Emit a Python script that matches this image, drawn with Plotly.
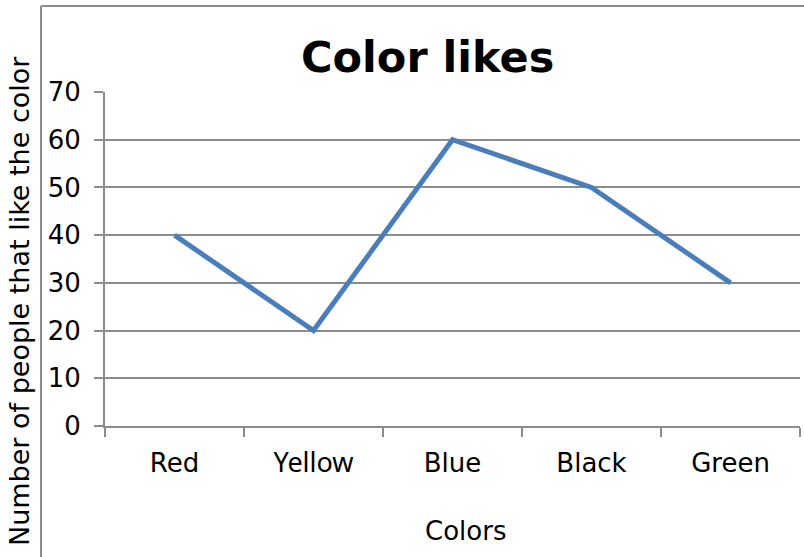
import plotly.graph_objects as go

categories = ["Red", "Yellow", "Blue", "Black", "Green"]
values = [40, 20, 60, 50, 30]
y_ticks = [0, 10, 20, 30, 40, 50, 60, 70]

W, H = 804, 557
# target plot area in screenshot pixels: x 105..800, y 92..426
L = 105
T = 92
R = W - 800
B = H - 426
pw = W - L - R
ph = H - T - B

def px(x):
    return (x - L) / pw

def py(y):
    return (H - B - y) / ph

GRAY = "#8c8c8c"
FONT = "DejaVu Sans"
FS = 26

tick_text = [
    c if c != "Yellow" else '<span style="font-family:Noto Sans;font-size:27px">Yellow</span>'
    for c in categories
]

fig = go.Figure()
fig.add_trace(go.Scatter(
    x=categories, y=values, mode="lines",
    line=dict(color="#4a7ebb", width=5), showlegend=False, hoverinfo="skip",
))

fig.update_layout(
    width=W, height=H,
    margin=dict(l=L, r=R, t=T, b=B, autoexpand=False),
    paper_bgcolor="white", plot_bgcolor="white",
    font=dict(family=FONT, size=FS, color="black"),
    xaxis=dict(
        type="category",
        range=[-0.5, len(categories) - 0.5],
        tickmode="array", tickvals=categories, ticktext=tick_text,
        showgrid=False, zeroline=False,
        showline=True, linecolor=GRAY, linewidth=2,
        ticks="outside", ticklen=9, tickwidth=2, tickcolor=GRAY,
        tickson="boundaries",
        ticklabelstandoff=13,
        tickfont=dict(family=FONT, size=FS),
        automargin=False,
    ),
    yaxis=dict(
        range=[0, 70], tickmode="array", tickvals=y_ticks,
        ticktext=[str(v) for v in y_ticks],
        showgrid=True, gridcolor=GRAY, gridwidth=2,
        zeroline=False,
        showline=True, linecolor=GRAY, linewidth=2,
        ticks="outside", ticklen=9, tickwidth=2, tickcolor=GRAY,
        ticklabelstandoff=8,
        tickfont=dict(family=FONT, size=FS),
        automargin=False,
    ),
    annotations=[
        dict(text="<b>Color likes</b>", x=px(427), y=py(57), xref="paper", yref="paper",
             showarrow=False, font=dict(family=FONT, size=43, color="black"),
             xanchor="center", yanchor="middle"),
        dict(text="Colors", x=px(465), y=py(531), xref="paper", yref="paper",
             showarrow=False, font=dict(family=FONT, size=FS, color="black"),
             xanchor="center", yanchor="middle"),
        dict(text="Number of people that like the color", x=px(19), y=py(301),
             xref="paper", yref="paper", textangle=-90,
             showarrow=False, font=dict(family=FONT, size=27, color="black"),
             xanchor="center", yanchor="middle"),
    ],
    shapes=[
        dict(type="line", xref="paper", yref="paper", x0=px(41), x1=px(41), y0=py(6), y1=py(620),
             line=dict(color=GRAY, width=2)),
        dict(type="line", xref="paper", yref="paper", x0=px(41), x1=px(880), y0=py(6), y1=py(6),
             line=dict(color=GRAY, width=2)),
    ],
)

fig.write_html(
    "out.html",
    config={"displayModeBar": False},
    post_script="document.body.style.margin='0';document.body.style.overflow='hidden';",
)
